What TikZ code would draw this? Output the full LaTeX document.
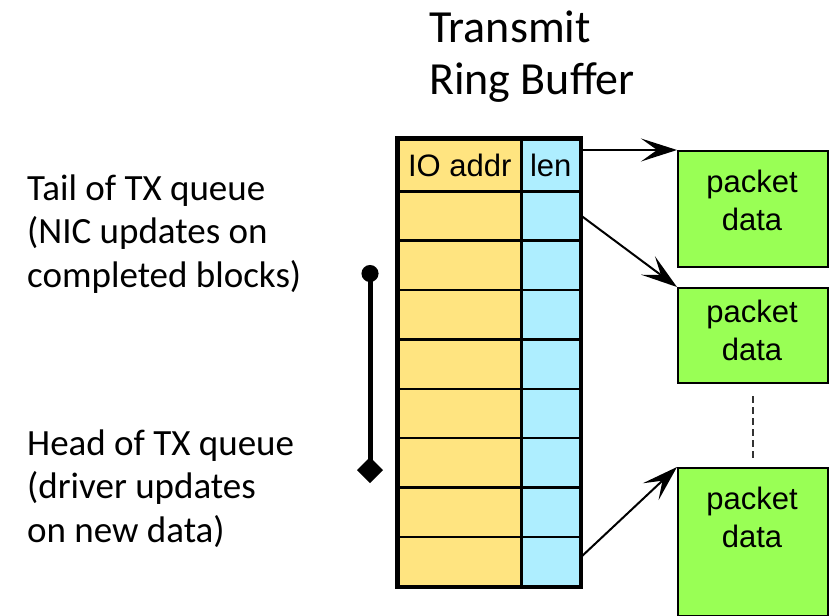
\documentclass[tikz,border=0pt]{standalone}
\usepackage{fontspec}
\setmainfont{Carlito}
\newfontfamily\arialfont{Liberation Sans}
\usetikzlibrary{arrows.meta}
\definecolor{addrY}{RGB}{255,228,128}
\definecolor{lenB}{RGB}{174,238,255}
\definecolor{pktG}{RGB}{153,255,85}
\begin{document}
\begin{tikzpicture}[x=1pt,y=-1pt,
  cell/.style={draw=black, line width=2.5pt, inner sep=0pt, anchor=north west,
    font=\arialfont\fontsize{31}{37}\selectfont},
  addrcell/.style={cell, fill=addrY, minimum width=123pt, minimum height=49.375pt},
  lencell/.style={cell, fill=lenB, minimum width=59pt, minimum height=49.375pt},
  pkt/.style={draw=black, line width=2pt, fill=pktG, minimum width=150pt,
    inner sep=0pt, anchor=north west},
  ptext/.style={font=\arialfont\fontsize{31}{37.5}\selectfont, align=center,
    inner sep=0pt, anchor=base},
  lefttext/.style={font=\fontsize{37}{43.3}\selectfont, align=left,
    inner sep=0pt, anchor=base west},
  titletext/.style={font=\fontsize{46}{52}\selectfont, align=left,
    inner sep=0pt, anchor=base west},
  arr/.style={line width=2pt, -{Stealth[length=36pt,width=23pt,inset=16pt]}},
  dashline/.style={draw=black!80, line width=1.8pt, dash pattern=on 7pt off 4pt},
  bar/.style={line width=5pt, {Circle[length=17pt]}-{Diamond[length=26pt,width=26pt]}}
]
\useasboundingbox (0,0) rectangle (833,616);

% title (anchor = baseline of last line)
\node[titletext] (title) at (429,94) {Transmit\\Ring Buffer};

% left texts
\node[lefttext] (tail) at (27,287) {Tail of TX queue\\(NIC updates on\\completed blocks)};
\node[lefttext] (head) at (27,542) {Head of TX queue\\(driver updates\\on new data)};

% ring buffer table
\node[addrcell, minimum height=52pt] (hio) at (397,138) {IO addr};
\node[lencell, minimum height=52pt] (hlen) at (520,138) {len};
\foreach \i in {1,...,8}{
  \node[addrcell] (a\i) at (397,{190+(\i-1)*49.375}) {};
  \node[lencell] (l\i) at (520,{190+(\i-1)*49.375}) {};
}
\draw[line width=3.5pt] (hio.north west) rectangle (l8.south east);

% packet boxes
\node[pkt, minimum height=116pt] (pk1) at (677,150) {};
\node[pkt, minimum height=95pt] (pk2) at (677,287) {};
\node[pkt, minimum height=148pt] (pk3) at (677,467) {};
\node[ptext] (pt1) at (752,230) {packet\\data};
\node[ptext] (pt2) at (752,360) {packet\\data};
\node[ptext] (pt3) at (752,547) {packet\\data};

% dashed continuation
\draw[dashline, shorten <=12pt, shorten >=9pt] (pk2.south) -- (pk3.north);

% arrows
\draw[arr] ([yshift=-12pt]hlen.north east) -- (pk1.north west);
\draw[arr] (l1.east) -- (pk2.north west);
\draw[arr] ([yshift=5pt]l8.east) -- (pk3.north west);

% tail/head bar
\coordinate (tailpt) at (370,265);
\coordinate (headpt) at (370,483);
\draw[bar] (tailpt) -- (headpt);
\end{tikzpicture}
\end{document}
